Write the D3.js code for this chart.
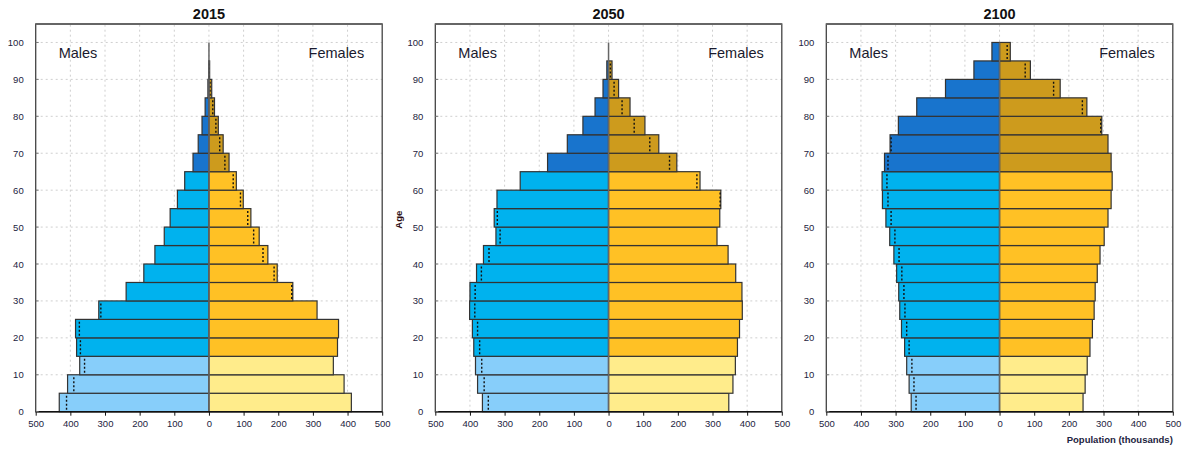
<!DOCTYPE html>
<html>
<head>
<meta charset="utf-8">
<script src="https://cdn.jsdelivr.net/npm/d3@7"></script>
<style>
  body { margin: 0; background: #fff; }
  svg { display: block; font-family: Arial, "Liberation Sans", sans-serif; }
</style>
</head>
<body>
<svg id="chart" width="1182" height="451"></svg>
<script>
// Age groups (lower bound of each 5-year band)
const ageStarts = [0, 5, 10, 15, 20, 25, 30, 35, 40, 45, 50, 55, 60, 65, 70, 75, 80, 85, 90, 95];
const years = ["2015", "2050", "2100"];

// Population in thousands, by age group
const males2015   = [432, 408, 373, 382, 385, 318, 239, 188, 156, 129, 112, 91, 70, 46, 31, 20, 11, 3, 1, 0];
const females2015 = [411, 390, 359, 371, 374, 312, 242, 197, 170, 145, 121, 99, 79, 58, 41, 27, 16, 8, 2, 0];
const males2050   = [364, 378, 384, 389, 393, 401, 400, 381, 361, 325, 330, 322, 255, 176, 119, 74, 39, 16, 5, 0];
const females2050 = [347, 359, 366, 372, 378, 386, 385, 367, 345, 313, 321, 324, 264, 197, 145, 105, 62, 29, 10, 0];
const males2100   = [255, 261, 268, 274, 283, 288, 291, 297, 305, 317, 328, 338, 339, 332, 316, 292, 239, 156, 74, 22];
const females2100 = [241, 247, 253, 261, 268, 273, 276, 282, 290, 302, 313, 322, 325, 322, 313, 295, 252, 175, 89, 31];

const popTicks = [-500, -400, -300, -200, -100, 0, 100, 200, 300, 400, 500];
const ageTicks = [0, 10, 20, 30, 40, 50, 60, 70, 80, 90, 100];

const maleSeries = [males2015, males2050, males2100];
const femaleSeries = [females2015, females2050, females2100];

// Fill by broad age class: children, working age, elderly
const maleColors = ["#87CEFA", "#00B2EE", "#1874CD"];
const femaleColors = ["#FFEC8B", "#FFC125", "#CD9B1D"];
const ageClass = a => a < 15 ? 0 : (a < 65 ? 1 : 2);

const svg = d3.select("#chart");
const panelLefts = [35.7, 435.3, 826.3];
const panelWidth = 346.5;
const plotTop = 24, plotBottom = 411.7;

const y = d3.scaleLinear().domain([0, 105]).range([plotBottom, plotTop]);

years.forEach((yr, i) => {
  const x0 = panelLefts[i];
  const x = d3.scaleLinear().domain([-500, 500]).range([x0, x0 + panelWidth]);
  const g = svg.append("g");

  // grid
  g.append("g").selectAll("line")
    .data(popTicks.filter(t => Math.abs(t) < 500))
    .join("line")
    .attr("x1", d => x(d)).attr("x2", d => x(d))
    .attr("y1", plotBottom).attr("y2", plotTop)
    .attr("stroke", "#cfcfcf").attr("stroke-width", 1)
    .attr("stroke-dasharray", "2,3");
  g.append("g").selectAll("line")
    .data(ageTicks)
    .join("line")
    .attr("x1", x(-500)).attr("x2", x(500))
    .attr("y1", d => y(d)).attr("y2", d => y(d))
    .attr("stroke", "#cfcfcf").attr("stroke-width", 1)
    .attr("stroke-dasharray", "2,3");

  const rows = ageStarts.map((a, k) => ({ a, m: maleSeries[i][k], f: femaleSeries[i][k] }));
  const band = y(0) - y(5);

  // male bars
  g.append("g").selectAll("rect")
    .data(rows.filter(d => d.m > 0))
    .join("rect")
    .attr("x", d => x(-d.m)).attr("width", d => x(0) - x(-d.m))
    .attr("y", d => y(d.a + 5)).attr("height", band)
    .attr("fill", d => maleColors[ageClass(d.a)])
    .attr("stroke", "#333").attr("stroke-width", 1.2);

  // female bars
  g.append("g").selectAll("rect")
    .data(rows.filter(d => d.f > 0))
    .join("rect")
    .attr("x", x(0)).attr("width", d => x(d.f) - x(0))
    .attr("y", d => y(d.a + 5)).attr("height", band)
    .attr("fill", d => femaleColors[ageClass(d.a)])
    .attr("stroke", "#333").attr("stroke-width", 1.2);

  // dotted outline of the opposite sex where it is the smaller one
  g.append("g").selectAll("line")
    .data(rows.filter(d => d.m > 0 && d.f > 0))
    .join("line")
    .attr("x1", d => d.m >= d.f ? x(-d.f) : x(d.m))
    .attr("x2", d => d.m >= d.f ? x(-d.f) : x(d.m))
    .attr("y1", d => y(d.a) - 2).attr("y2", d => y(d.a + 5) + 2)
    .attr("stroke", "#111").attr("stroke-width", 1.4)
    .attr("stroke-dasharray", "2,2");

  // centre line
  g.append("line")
    .attr("x1", x(0)).attr("x2", x(0))
    .attr("y1", y(0)).attr("y2", y(100))
    .attr("stroke", "#666").attr("stroke-width", 1.5);

  // frame
  g.append("rect")
    .attr("x", x(-500)).attr("y", plotTop)
    .attr("width", panelWidth).attr("height", plotBottom - plotTop)
    .attr("fill", "none").attr("stroke", "#444").attr("stroke-width", 1.3);
  g.append("line")
    .attr("x1", x(-500)).attr("x2", x(500))
    .attr("y1", plotTop).attr("y2", plotTop)
    .attr("stroke", "#666").attr("stroke-width", 2);
  g.append("line")
    .attr("x1", x(-500)).attr("x2", x(500))
    .attr("y1", plotBottom).attr("y2", plotBottom)
    .attr("stroke", "#111").attr("stroke-width", 1.5);

  // x axis
  const xAxis = d3.axisBottom(x).tickValues(popTicks)
    .tickFormat(d => Math.abs(d)).tickSize(4).tickPadding(5);
  const xa = g.append("g").attr("transform", `translate(0,${plotBottom})`).call(xAxis);
  xa.select(".domain").remove();
  xa.selectAll(".tick line").attr("stroke", "#111");
  xa.selectAll("text").attr("font-size", 9.5).attr("fill", "#1c2340")
    .attr("font-family", "Arial, sans-serif");

  // y axis
  const yAxis = d3.axisLeft(y).tickValues(ageTicks).tickSize(0).tickPadding(12);
  const ya = g.append("g").attr("transform", `translate(${x(-500)},0)`).call(yAxis);
  ya.select(".domain").remove();
  ya.selectAll("text").attr("font-size", 9.5).attr("fill", "#1c2340")
    .attr("font-family", "Arial, sans-serif");
  g.append("g").selectAll("line")
    .data(ageTicks).join("line")
    .attr("x1", x(-500)).attr("x2", x(-500) + 3)
    .attr("y1", d => y(d)).attr("y2", d => y(d))
    .attr("stroke", "#777");

  // title
  g.append("text")
    .attr("x", x(0)).attr("y", 19)
    .attr("text-anchor", "middle")
    .attr("font-size", 14.5).attr("font-weight", "bold").attr("fill", "#111")
    .text(yr);

  // sex labels
  g.append("text")
    .attr("x", x(-500) + 23).attr("y", 58)
    .attr("font-size", 14.5).attr("fill", "#1a1a2e")
    .text("Males");
  g.append("text")
    .attr("x", x(500) - 18).attr("y", 58)
    .attr("text-anchor", "end")
    .attr("font-size", 14.5).attr("fill", "#1a1a2e")
    .text("Females");

  if (i === 1) {
    g.append("text")
      .attr("transform", `translate(${x(-500) - 33},${y(52)}) rotate(-90)`)
      .attr("text-anchor", "middle")
      .attr("font-size", 9.5).attr("font-weight", "bold").attr("fill", "#2a0a10")
      .text("Age");
  }
  if (i === 2) {
    g.append("text")
      .attr("x", x(500)).attr("y", 443)
      .attr("text-anchor", "end")
      .attr("font-size", 9.5).attr("font-weight", "bold").attr("fill", "#1c2340")
      .text("Population (thousands)");
  }
});
</script>
</body>
</html>
